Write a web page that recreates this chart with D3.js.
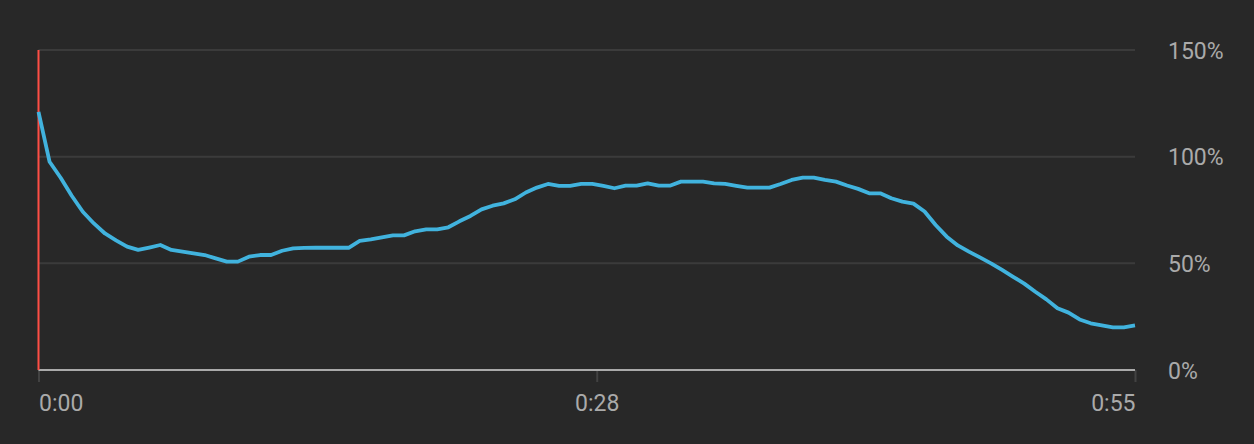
<!DOCTYPE html>
<html>
<head>
<meta charset="utf-8">
<script src="https://cdn.jsdelivr.net/npm/d3@7"></script>
<style>
  html, body { margin: 0; padding: 0; background: #282828; }
  svg { display: block; }
  .label { font-family: Roboto, "Noto Sans", sans-serif; font-size: 23px; fill: #aaaaaa; }
</style>
</head>
<body>
<svg id="chart"></svg>
<script>
// retention (%) at 100 evenly spaced points through the video
var retention = [
  121, 97.6, 90.1, 81.7, 74.2, 68.7, 64.0, 60.8, 57.8, 56.3,
  57.4, 58.6, 56.3, 55.5, 54.7, 53.9, 52.3, 50.8, 50.8, 53.1,
  53.9, 53.9, 55.9, 57.0, 57.2, 57.3, 57.3, 57.3, 57.3, 60.5,
  61.2, 62.2, 63.1, 63.1, 65.0, 65.9, 65.9, 66.9, 69.7, 72.2,
  75.3, 77.0, 78.1, 80.0, 83.2, 85.5, 87.2, 86.3, 86.3, 87.2,
  87.2, 86.3, 85.2, 86.4, 86.4, 87.5, 86.4, 86.4, 88.3, 88.3,
  88.3, 87.5, 87.2, 86.3, 85.5, 85.5, 85.5, 87.2, 89.1, 90.2,
  90.2, 89.1, 88.3, 86.5, 84.9, 82.8, 82.8, 80.5, 78.9, 78.0,
  74.3, 68.0, 62.5, 58.4, 55.5, 52.8, 50.0, 46.9, 43.7, 40.5,
  36.7, 33.1, 28.9, 26.9, 23.7, 21.9, 20.9, 20.0, 20.0, 20.9
];

var videoLength = 55;            // seconds
var timeTicks = [0, 28, 55];
var timeLabels = ["0:00", "0:28", "0:55"];
var pctTicks = [0, 50, 100, 150];
var pctLabels = ["0%", "50%", "100%", "150%"];

var size = { width: 1254, height: 444 };
var plot = { left: 38.5, right: 1135, top: 50, bottom: 370 };

var svg = d3.select("#chart")
  .attr("width", size.width)
  .attr("height", size.height);

svg.append("rect")
  .attr("width", size.width)
  .attr("height", size.height)
  .attr("fill", "#282828");

var x = d3.scaleLinear()
  .domain([0, retention.length - 1])
  .range([plot.left, plot.right]);

var xTime = d3.scaleLinear()
  .domain([0, videoLength])
  .range([plot.left, plot.right]);

var y = d3.scaleLinear()
  .domain([0, 150])
  .range([plot.bottom, plot.top]);

// grid lines
svg.append("g")
  .selectAll("line")
  .data(pctTicks.filter(function(d){ return d > 0; }))
  .enter()
  .append("line")
  .attr("x1", plot.left)
  .attr("x2", plot.right)
  .attr("y1", function(d){ return y(d); })
  .attr("y2", function(d){ return y(d); })
  .attr("stroke", "#3b3b3b")
  .attr("stroke-width", 2);

// x axis: baseline + ticks below
var xAxis = d3.axisBottom(xTime)
  .tickValues(timeTicks)
  .tickSize(12)
  .tickFormat(function(d, i){ return timeLabels[i]; });

var gx = svg.append("g")
  .attr("transform", "translate(0," + plot.bottom + ")")
  .call(xAxis);

gx.select(".domain").remove();
gx.selectAll(".tick line")
  .attr("stroke", "#424242")
  .attr("stroke-width", 2);
gx.selectAll(".tick text")
  .attr("class", "label")
  .attr("y", 41)
  .attr("dy", 0)
  .attr("text-anchor", function(d, i){
    return i === 0 ? "start" : (i === timeTicks.length - 1 ? "end" : "middle");
  });

svg.append("line")
  .attr("x1", plot.left)
  .attr("x2", plot.right)
  .attr("y1", y(0))
  .attr("y2", y(0))
  .attr("stroke", "#aaaaaa")
  .attr("stroke-width", 2);

// y axis labels on the right
var yAxis = d3.axisRight(y)
  .tickValues(pctTicks)
  .tickSize(0)
  .tickPadding(33)
  .tickFormat(function(d, i){ return pctLabels[i]; });

var gy = svg.append("g")
  .attr("transform", "translate(" + plot.right + ",0)")
  .call(yAxis);

gy.select(".domain").remove();
gy.selectAll(".tick text")
  .attr("class", "label")
  .attr("dy", "0.35em");

// red marker at start
svg.append("line")
  .attr("x1", plot.left)
  .attr("x2", plot.left)
  .attr("y1", y(150))
  .attr("y2", y(0))
  .attr("stroke", "#ff4e45")
  .attr("stroke-width", 2);

var line = d3.line()
  .x(function(d, i){ return x(i); })
  .y(function(d){ return y(d); });

svg.append("path")
  .datum(retention)
  .attr("d", line)
  .attr("fill", "none")
  .attr("stroke", "#41b3de")
  .attr("stroke-width", 3.8)
  .attr("stroke-linejoin", "round");
</script>
</body>
</html>
